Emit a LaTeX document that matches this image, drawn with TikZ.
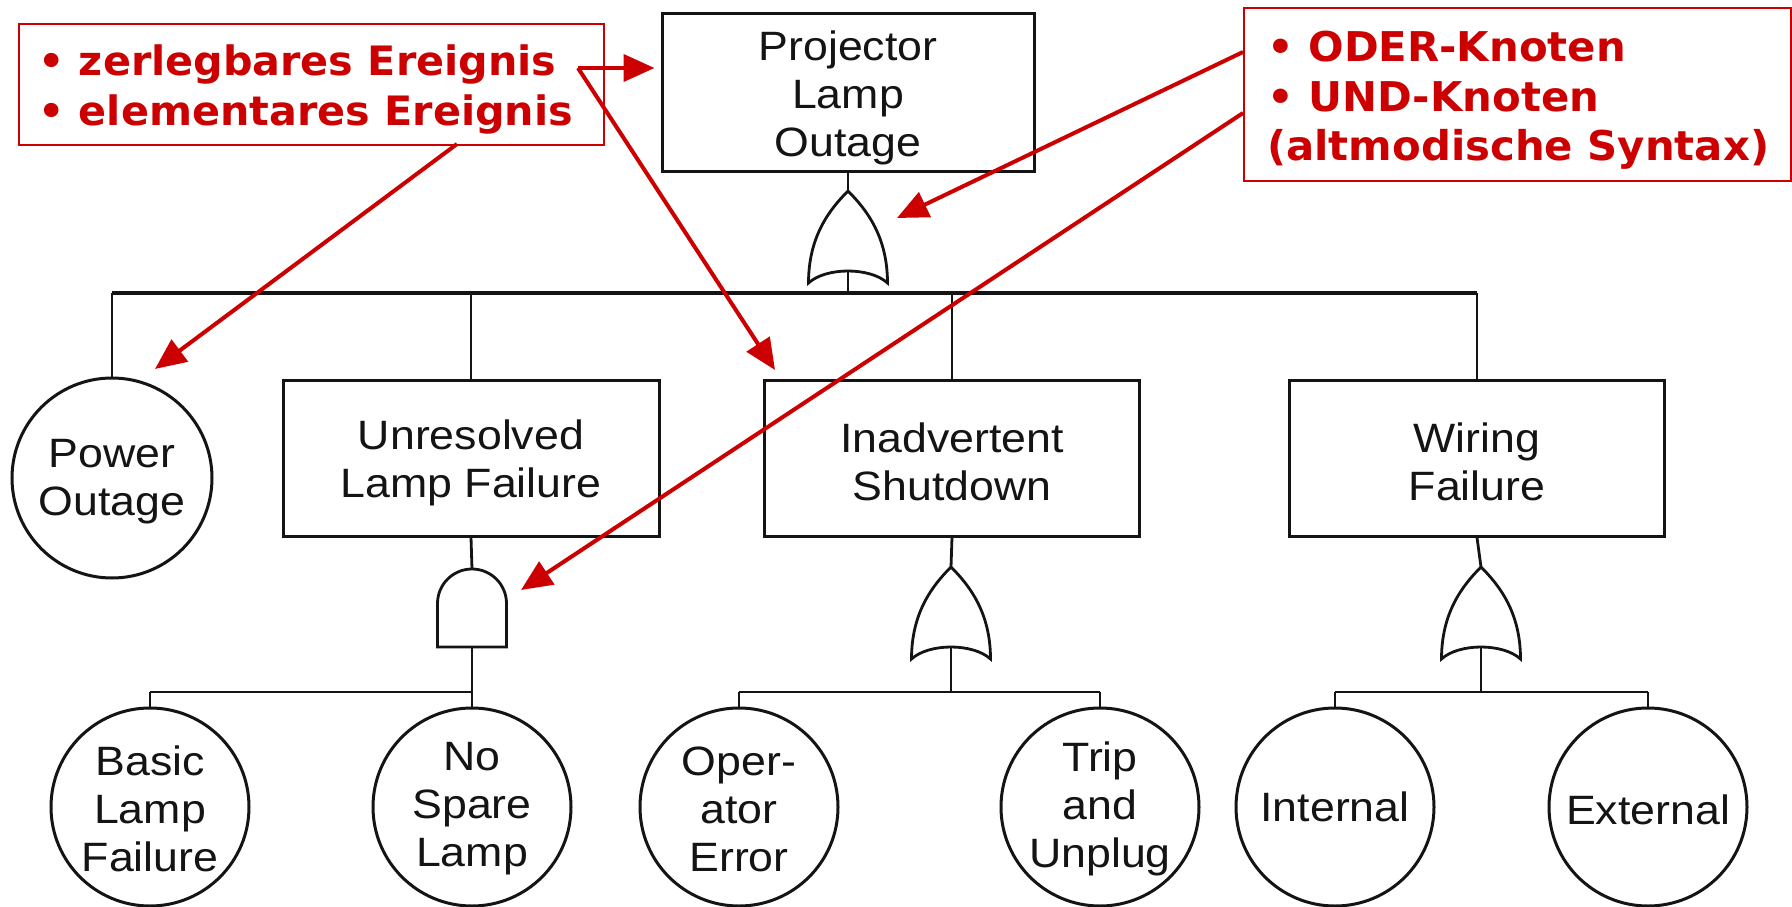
\documentclass[tikz,border=0pt]{standalone}
\usepackage{fontspec}
\setmainfont{Liberation Sans}
\newfontfamily\diagfont[FakeStretch=1.09]{Liberation Sans}
\newfontfamily\annfont[FakeStretch=1.02]{DejaVu Sans}
\usetikzlibrary{arrows.meta}
\definecolor{annred}{HTML}{CC0000}
\definecolor{inkblack}{HTML}{141414}
\tikzset{
  evbox/.style={draw=inkblack, line width=3pt, rectangle, inner sep=0pt},
  evcirc/.style={draw=inkblack, line width=3pt, circle, minimum size=198pt, inner sep=0pt},
  evtext/.style={inner sep=0pt, align=center, text=inkblack,
    font=\diagfont\fontsize{41}{48}\selectfont},
  link/.style={draw=inkblack, line width=2.8pt},
  mainbus/.style={draw=inkblack, line width=4.5pt},
  gateline/.style={draw=inkblack, line width=2.8pt, fill=white},
  annbox/.style={draw=annred, line width=2.2pt, inner sep=0pt},
  anntext/.style={text=annred, inner sep=0pt, align=left},
  redarrow/.style={draw=annred, line width=4pt, -{Triangle[length=31pt,width=27pt]}},
  orgate/.pic={
    \path[gateline] (-39.5,92) .. controls (-39.5,46) and (-19,19) .. (0,0)
       .. controls (19,19) and (39.5,46) .. (39.5,92)
       .. controls (22,76) and (-22,76) .. (-39.5,92) -- cycle;
    \coordinate (-in) at (0,0);
    \coordinate (-out) at (0,80);
  },
  andgate/.pic={
    \path[gateline] (-34.5,78) -- (-34.5,34.5) .. controls (-34.5,15.45) and (-19.05,0) .. (0,0)
       .. controls (19.05,0) and (34.5,15.45) .. (34.5,34.5) -- (34.5,78) -- cycle;
    \coordinate (-in) at (0,0);
    \coordinate (-out) at (0,78);
  }
}
\begin{document}
\begin{tikzpicture}[x=1pt,y=-1pt]
\useasboundingbox[fill=white] (0,0) rectangle (1792,907);

% top event
\node[evbox, minimum width=372pt, minimum height=157pt] (top) at (848,92.5) {};
\node[evtext] (topT) at ([yshift=-5pt]top.center) {Projector\\Lamp\\Outage};
\pic (g0) at (848,191) {orgate};
\coordinate (bus0) at (848,293);

% second level
\node[evcirc, minimum size=200pt] (power) at (112,478) {};
\node[evtext] (powerT) at ([yshift=-4pt]power.center) {Power\\Outage};
\node[evbox, minimum width=376pt, minimum height=156pt] (unres) at (471,458) {};
\node[evtext] (unresT) at ([yshift=-5pt]unres.center) {Unresolved\\Lamp Failure};
\node[evbox, minimum width=375pt, minimum height=156pt] (inadv) at (952,458) {};
\node[evtext] (inadvT) at ([yshift=-4pt]inadv.center) {Inadvertent\\Shutdown};
\node[evbox, minimum width=375pt, minimum height=156pt] (wiring) at (1477,458) {};
\node[evtext] (wiringT) at ([yshift=-4pt]wiring.center) {Wiring\\Failure};

\draw[link] (top.south) -- (g0-in);
\draw[link] (g0-out) -- (bus0);
\draw[mainbus] (power.north |- bus0) -- (wiring.north |- bus0);
\draw[link] (power.north) -- (power.north |- bus0);
\draw[link] (unres.north) -- (unres.north |- bus0);
\draw[link] (inadv.north) -- (inadv.north |- bus0);
\draw[link] (wiring.north) -- (wiring.north |- bus0);

% gates of second level
\pic (g1) at (472,569) {andgate};
\pic (g2) at (951,567) {orgate};
\pic (g3) at (1481,567) {orgate};
\coordinate (b1) at (472,692);
\coordinate (b2) at (951,692);
\coordinate (b3) at (1481,692);

% bottom events
\node[evcirc] (basic) at (150,807) {};
\node[evtext] (basicT) at ([yshift=-2pt]basic.center) {Basic\\Lamp\\Failure};
\node[evcirc] (spare) at (472,807) {};
\node[evtext] (spareT) at ([yshift=-2pt]spare.center) {No\\Spare\\Lamp};
\node[evcirc] (oper) at (739,807) {};
\node[evtext] (operT) at ([yshift=-2pt]oper.center) {Oper-\\ator\\Error};
\node[evcirc] (trip) at (1100,807) {};
\node[evtext] (tripT) at ([yshift=-2pt]trip.center) {Trip\\and\\Unplug};
\node[evcirc] (intern) at (1335,807) {};
\node[evtext] (internT) at (intern.center) {Internal};
\node[evcirc] (extern) at (1648,807) {};
\node[evtext] (externT) at ([yshift=-3pt]extern.center) {External};

\draw[link] (unres.south) -- (g1-in);
\draw[link] (inadv.south) -- (g2-in);
\draw[link] (wiring.south) -- (g3-in);
\draw[link] (g1-out) -- (b1);
\draw[link] (g2-out) -- (b2);
\draw[link] (g3-out) -- (b3);
\draw[link] (basic.north |- b1) -- (spare.north |- b1);
\draw[link] (oper.north |- b2) -- (trip.north |- b2);
\draw[link] (intern.north |- b3) -- (extern.north |- b3);
\draw[link] (basic.north) -- (basic.north |- b1);
\draw[link] (spare.north) -- (spare.north |- b1);
\draw[link] (oper.north) -- (oper.north |- b2);
\draw[link] (trip.north) -- (trip.north |- b2);
\draw[link] (intern.north) -- (intern.north |- b3);
\draw[link] (extern.north) -- (extern.north |- b3);

% annotations
\node[annbox, minimum width=585pt, minimum height=121pt, anchor=north west] (ann1) at (18,23) {};
\node[anntext, anchor=north west, font=\annfont\bfseries\fontsize{40.5}{50}\selectfont] (ann1t) at (38,45)
  {• zerlegbares Ereignis\\• elementares Ereignis};
\node[annbox, minimum width=547pt, minimum height=173pt, anchor=north west] (ann2) at (1243,7) {};
\node[anntext, anchor=north west, font=\annfont\bfseries\fontsize{41}{49.5}\selectfont] (ann2t) at (1267,31)
  {• ODER-Knoten\\• UND-Knoten\\(altmodische Syntax)};

\coordinate (a1s) at (578,68);
\coordinate (t2) at (775,370);
\coordinate (a3s) at (457,144);
\coordinate (t3) at (155,369);
\coordinate (a4s) at (1243,52);
\coordinate (t4) at (897,218);
\coordinate (a5s) at (1243,113);
\coordinate (t5) at (521,590);

\draw[redarrow, shorten >=6pt] (a1s) -- (top.west |- a1s);
\draw[redarrow] (a1s) -- (t2);
\draw[redarrow] (a3s) -- (t3);
\draw[redarrow] (a4s) -- (t4);
\draw[redarrow] (a5s) -- (t5);
\end{tikzpicture}
\end{document}
